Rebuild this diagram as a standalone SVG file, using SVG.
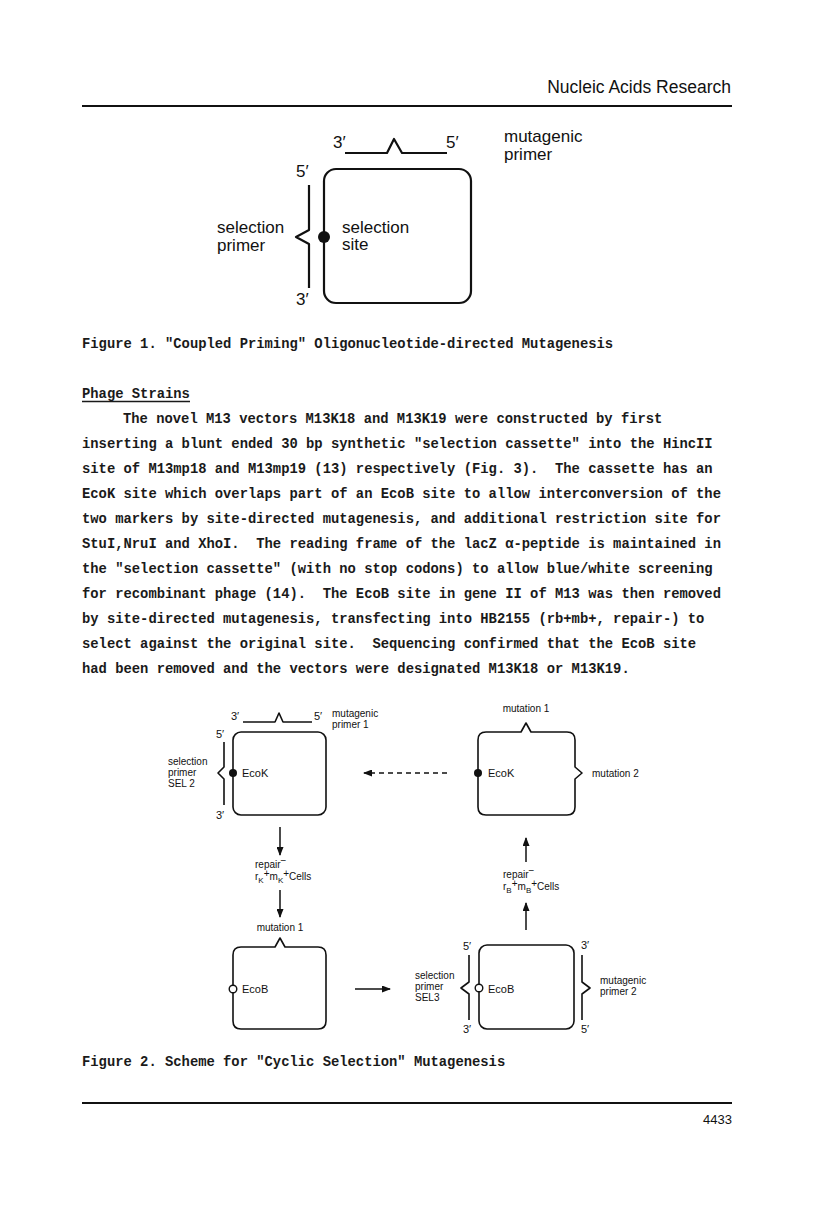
<svg xmlns="http://www.w3.org/2000/svg" width="816" height="1219" viewBox="0 0 816 1219">
<style>
.hdr{font-family:"Liberation Sans",Arial,sans-serif;fill:#111}
.mono{font-family:"Liberation Mono","Courier New",monospace;font-size:13.83px;font-weight:bold;fill:#1a1a1a}
.f1{font-family:"Liberation Sans",Arial,sans-serif;font-size:17px;fill:#111}
.f2{font-family:"Liberation Sans",Arial,sans-serif;font-size:10px;fill:#111}
.f2b{font-family:"Liberation Sans",Arial,sans-serif;font-size:11px;fill:#111}
.s1{fill:none;stroke:#111;stroke-width:2.2;stroke-linejoin:round}
.s2{fill:none;stroke:#111;stroke-width:1.6;stroke-linejoin:round}
.conn{fill:none;stroke:#111;stroke-width:1.5}
</style>
<defs>
<marker id="ah" markerUnits="userSpaceOnUse" markerWidth="9" markerHeight="7" refX="8" refY="3.5" orient="auto">
<path d="M0,0 L9,3.5 L0,7 Z" fill="#111"/>
</marker>
</defs>
<rect width="816" height="1219" fill="#fff"/>

<g id="header">
<text class="hdr" x="731" y="93" font-size="17.5" text-anchor="end">Nucleic Acids Research</text>
<line x1="82" y1="106" x2="732" y2="106" stroke="#111" stroke-width="2"/>
</g>

<g id="figure1">
<g id="fig1-plasmid">
<rect class="s1" x="324" y="169" width="147" height="134" rx="12"/>
<circle cx="324" cy="237" r="6" fill="#111"/>
<text class="f1" x="342" y="233">selection</text>
<text class="f1" x="342" y="250">site</text>
</g>
<g id="fig1-mutagenic-primer">
<path class="s1" d="M345,153 L387,153 L394,139 L402,153 L447,153"/>
<text class="f1" x="333" y="148">3′</text>
<text class="f1" x="446" y="148">5′</text>
<text class="f1" x="504" y="142">mutagenic</text>
<text class="f1" x="504" y="160">primer</text>
</g>
<g id="fig1-selection-primer">
<path class="s1" d="M309,185 L309,230 L296,237 L309,244 L309,288"/>
<text class="f1" x="296" y="177">5′</text>
<text class="f1" x="296" y="305">3′</text>
<text class="f1" x="217" y="233">selection</text>
<text class="f1" x="217" y="251">primer</text>
</g>
</g>

<g id="body-text">
<text class="mono" x="82" y="348">Figure 1. "Coupled Priming" Oligonucleotide-directed Mutagenesis</text>
<text class="mono" x="82" y="398">Phage Strains</text>
<line x1="82" y1="401.5" x2="190" y2="401.5" stroke="#1a1a1a" stroke-width="1.3"/>
<text class="mono" x="123" y="423">The novel M13 vectors M13K18 and M13K19 were constructed by first</text>
<text class="mono" x="82" y="448">inserting a blunt ended 30 bp synthetic "selection cassette" into the HincII</text>
<text class="mono" x="82" y="473" xml:space="preserve">site of M13mp18 and M13mp19 (13) respectively (Fig. 3).  The cassette has an</text>
<text class="mono" x="82" y="498">EcoK site which overlaps part of an EcoB site to allow interconversion of the</text>
<text class="mono" x="82" y="523">two markers by site-directed mutagenesis, and additional restriction site for</text>
<text class="mono" x="82" y="548" xml:space="preserve">StuI,NruI and XhoI.  The reading frame of the lacZ α-peptide is maintained in</text>
<text class="mono" x="82" y="573">the "selection cassette" (with no stop codons) to allow blue/white screening</text>
<text class="mono" x="82" y="598" xml:space="preserve">for recombinant phage (14).  The EcoB site in gene II of M13 was then removed</text>
<text class="mono" x="82" y="623">by site-directed mutagenesis, transfecting into HB2155 (rb+mb+, repair-) to</text>
<text class="mono" x="82" y="648" xml:space="preserve">select against the original site.  Sequencing confirmed that the EcoB site</text>
<text class="mono" x="82" y="673">had been removed and the vectors were designated M13K18 or M13K19.</text>
<text class="mono" x="82" y="1066">Figure 2. Scheme for "Cyclic Selection" Mutagenesis</text>
</g>

<g id="fig2-top-left">
<rect class="s2" x="233" y="732" width="93" height="83" rx="8"/>
<path class="s2" d="M243,722 L275,722 L279,713 L283,722 L312,722"/>
<text class="f2b" x="231" y="720">3′</text>
<text class="f2b" x="314" y="720">5′</text>
<text class="f2" x="332" y="717">mutagenic</text>
<text class="f2" x="332" y="728">primer 1</text>
<path class="s2" d="M224,742 L224,767 L218,773 L224,779 L224,805"/>
<text class="f2b" x="216" y="738">5′</text>
<text class="f2b" x="216" y="819">3′</text>
<circle cx="233" cy="773" r="4" fill="#111"/>
<text class="f2b" x="242" y="777">EcoK</text>
<text class="f2" x="168" y="765">selection</text>
<text class="f2" x="168" y="776">primer</text>
<text class="f2" x="168" y="787">SEL 2</text>
</g>

<g id="fig2-top-right">
<path class="s2" d="M486,732 L521,732 L526,723 L531,732 L567,732 Q575,732 575,740 L575,767 L582,773 L575,779 L575,807 Q575,815 567,815 L486,815 Q478,815 478,807 L478,740 Q478,732 486,732 Z"/>
<circle cx="478" cy="773" r="4" fill="#111"/>
<text class="f2b" x="488" y="777">EcoK</text>
<text class="f2" x="526" y="712" text-anchor="middle">mutation 1</text>
<text class="f2" x="592" y="777">mutation 2</text>
</g>

<g id="fig2-bottom-left">
<path class="s2" d="M241,947 L275,947 L280,938 L285,947 L318,947 Q326,947 326,955 L326,1021 Q326,1029 318,1029 L241,1029 Q233,1029 233,1021 L233,955 Q233,947 241,947 Z"/>
<circle cx="233" cy="989" r="3.8" fill="#fff" stroke="#111" stroke-width="1.4"/>
<text class="f2b" x="242" y="993">EcoB</text>
<text class="f2" x="280" y="931" text-anchor="middle">mutation 1</text>
</g>

<g id="fig2-bottom-right">
<rect class="s2" x="479" y="945" width="95" height="84" rx="8"/>
<circle cx="479" cy="988" r="3.8" fill="#fff" stroke="#111" stroke-width="1.4"/>
<text class="f2b" x="488" y="993">EcoB</text>
<path class="s2" d="M469,955 L469,982 L461,988 L469,994 L469,1020"/>
<text class="f2b" x="463" y="950">5′</text>
<text class="f2b" x="463" y="1033">3′</text>
<text class="f2" x="415" y="979">selection</text>
<text class="f2" x="415" y="990">primer</text>
<text class="f2" x="415" y="1001">SEL3</text>
<path class="s2" d="M582,955 L582,982 L590,988 L582,994 L582,1020"/>
<text class="f2b" x="581" y="949">3′</text>
<text class="f2b" x="581" y="1033">5′</text>
<text class="f2" x="600" y="984">mutagenic</text>
<text class="f2" x="600" y="995">primer 2</text>
</g>

<g id="fig2-conditions">
<text class="f2" x="255" y="868">repair<tspan dy="-4">−</tspan></text>
<text class="f2" x="255" y="880">r<tspan dy="3" font-size="8">K</tspan><tspan dy="-6">+</tspan><tspan dy="3">m</tspan><tspan dy="3" font-size="8">K</tspan><tspan dy="-6">+</tspan><tspan dy="3">Cells</tspan></text>
<text class="f2" x="503" y="878">repair<tspan dy="-4">−</tspan></text>
<text class="f2" x="503" y="890">r<tspan dy="3" font-size="8">B</tspan><tspan dy="-6">+</tspan><tspan dy="3">m</tspan><tspan dy="3" font-size="8">B</tspan><tspan dy="-6">+</tspan><tspan dy="3">Cells</tspan></text>
</g>

<g id="connectors">
<line class="conn" x1="447" y1="773" x2="364" y2="773" stroke-dasharray="5,4" marker-end="url(#ah)"/>
<line class="conn" x1="280" y1="827" x2="280" y2="855" marker-end="url(#ah)"/>
<line class="conn" x1="280" y1="890" x2="280" y2="917" marker-end="url(#ah)"/>
<line class="conn" x1="355" y1="989" x2="390" y2="989" marker-end="url(#ah)"/>
<line class="conn" x1="526" y1="930" x2="526" y2="903" marker-end="url(#ah)"/>
<line class="conn" x1="526" y1="862" x2="526" y2="838" marker-end="url(#ah)"/>
</g>

<g id="footer">
<line x1="82" y1="1103" x2="732" y2="1103" stroke="#111" stroke-width="2"/>
<text class="hdr" x="732" y="1124" font-size="13" text-anchor="end">4433</text>
</g>
</svg>
